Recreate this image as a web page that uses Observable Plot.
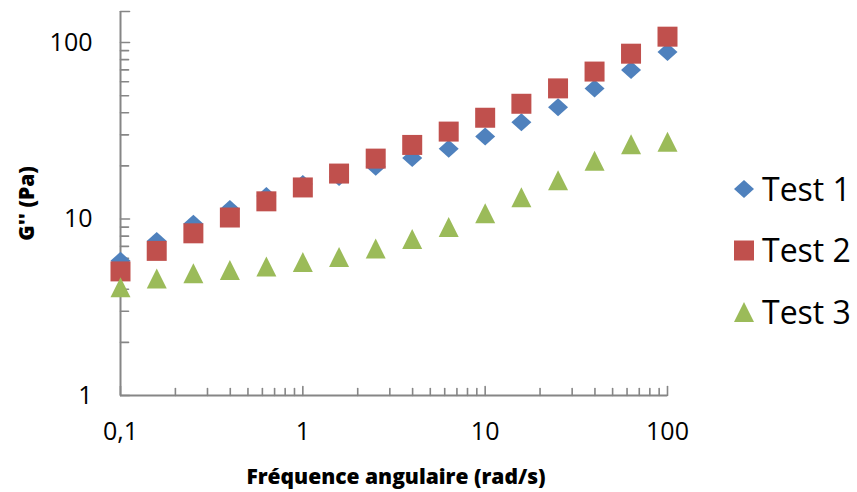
<!DOCTYPE html>
<html>
<head>
<meta charset="utf-8">
<script src="https://cdn.jsdelivr.net/npm/d3@7"></script>
<script src="https://cdn.jsdelivr.net/npm/@observablehq/plot@0.6"></script>
<style>
  html, body { margin: 0; padding: 0; background: #fff; }
  #chart { width: 857px; height: 492px; }
  svg { font-family: "Open Sans", sans-serif; }
</style>
</head>
<body>
<div id="chart"></div>
<script>
// ---- data ----
const freq  = [0.1, 0.158, 0.251, 0.398, 0.631, 1, 1.58, 2.51, 3.98, 6.31, 10, 15.8, 25.1, 39.8, 63.1, 100];
const test1 = [5.8, 7.5, 9.4, 11.4, 13.5, 15.8, 17.3, 19.8, 22.2, 25.0, 29.4, 35.3, 43.0, 55.0, 70.0, 88.5];
const test2 = [5.05, 6.6, 8.3, 10.2, 12.6, 15.1, 18.1, 22.0, 26.3, 31.3, 37.5, 45.0, 55.0, 68.5, 86.5, 108];
const test3 = [4.1, 4.6, 4.93, 5.15, 5.38, 5.7, 6.1, 6.8, 7.7, 9.0, 10.8, 13.3, 16.6, 21.4, 26.5, 27.4];
const seriesNames = ["Test 1", "Test 2", "Test 3"];
const seriesColors = ["#4F81BD", "#C0504D", "#9BBB59"];
const xMajor = [0.1, 1, 10, 100];
const xMinor = [0.2,0.3,0.4,0.5,0.6,0.7,0.8,0.9, 2,3,4,5,6,7,8,9, 20,30,40,50,60,70,80,90];
const yMajor = [1, 10, 100, 150];
const yLabeled = [1, 10, 100];
const yMinor = [2,3,4,5,6,7,8,9, 20,30,40,50,60,70,80,90];
const xTitle = "Fréquence angulaire (rad/s)";
const yTitle = "G'' (Pa)";

// ---- symbols (Excel-like markers) ----
const diamondSym = {draw(ctx, size) { const s = Math.sqrt(size); const w = 0.5*s, h = 0.45*s;
  ctx.moveTo(0,-h); ctx.lineTo(w,0); ctx.lineTo(0,h); ctx.lineTo(-w,0); ctx.closePath(); }};
const squareSym = {draw(ctx, size) { const s = Math.sqrt(size)/2; ctx.rect(-s,-s,2*s,2*s); }};
const triangleSym = {draw(ctx, size) { const s = Math.sqrt(size)/2;
  ctx.moveTo(0,-s); ctx.lineTo(s,s); ctx.lineTo(-s,s); ctx.closePath(); }};
const symbols = [diamondSym, squareSym, triangleSym];
const R = 20 / Math.sqrt(Math.PI); // 20px marker

const rows = [];
[test1, test2, test3].forEach((vals, k) => vals.forEach((v, i) => rows.push({series: k, f: freq[i], g: v})));

const axisColor = "#868686";
const tickShape = {draw(ctx, l) { ctx.moveTo(0, 0); ctx.lineTo(0, -l); }};
const fmt = d => d === 0.1 ? "0,1" : String(d);

const plot = Plot.plot({
  width: 857, height: 492,
  marginLeft: 120, marginRight: 190, marginTop: 11, marginBottom: 97,
  x: {type: "log", domain: [0.1, 100]},
  y: {type: "log", domain: [1, 150]},
  style: {fontFamily: "'Open Sans', sans-serif", background: "#fff"},
  marks: [
    // axis lines
    Plot.ruleX([0.1], {stroke: axisColor, strokeWidth: 2}),
    Plot.ruleY([1], {stroke: axisColor, strokeWidth: 2}),
    // ticks (inside)
    Plot.vector(yMajor, {y: d => d, frameAnchor: "left", length: 9, rotate: 90, anchor: "start", shape: tickShape, stroke: axisColor, strokeWidth: 1.6}),
    Plot.vector(yMinor, {y: d => d, frameAnchor: "left", length: 8, rotate: 90, anchor: "start", shape: tickShape, stroke: axisColor, strokeWidth: 1.6}),
    Plot.vector(xMajor, {x: d => d, frameAnchor: "bottom", length: 9, rotate: 0, anchor: "start", shape: tickShape, stroke: axisColor, strokeWidth: 1.6}),
    Plot.vector(xMinor, {x: d => d, frameAnchor: "bottom", length: 7, rotate: 0, anchor: "start", shape: tickShape, stroke: axisColor, strokeWidth: 1.6}),
    // tick labels
    Plot.axisY({ticks: yLabeled, tickSize: 0, tickPadding: 28, tickFormat: fmt, fontSize: 25, label: null, fill: "#000"}),
    Plot.axisX({ticks: xMajor, tickSize: 0, tickPadding: 27, tickFormat: fmt, fontSize: 25, label: null, fill: "#000"}),
    // titles
    Plot.text([xTitle], {text: d => d, frameAnchor: "bottom", lineAnchor: "bottom", textAnchor: "middle", dy: 88, dx: 2, fontSize: 21, fontWeight: 800, fill: "#000"}),
    Plot.text([yTitle], {text: d => d, frameAnchor: "left", rotate: -90, lineAnchor: "middle", textAnchor: "middle", dx: -93, fontSize: 21, fontWeight: 800, fill: "#000"}),
    // data
    ...[0, 1, 2].map(k => Plot.dot(rows.filter(r => r.series === k), {
      x: "f", y: "g", r: R, symbol: () => symbols[k], fill: seriesColors[k], stroke: "none"
    }))
  ]
});

document.getElementById("chart").appendChild(plot);

// ---- legend ----
const svg = d3.select(plot);
const lg = svg.append("g").attr("text-anchor", "start");
const legendY = [189, 250.5, 312];
seriesNames.forEach((name, k) => {
  lg.append("path")
    .attr("d", d3.symbol(symbols[k], 400)())
    .attr("transform", `translate(744,${legendY[k]})`)
    .attr("fill", seriesColors[k]);
  lg.append("text")
    .attr("x", 762).attr("y", legendY[k]).attr("dy", "0.36em")
    .attr("text-anchor", "start")
    .attr("font-size", 32).attr("fill", "#000")
    .attr("font-family", "'Open Sans', sans-serif")
    .text(name);
});
</script>
</body>
</html>
